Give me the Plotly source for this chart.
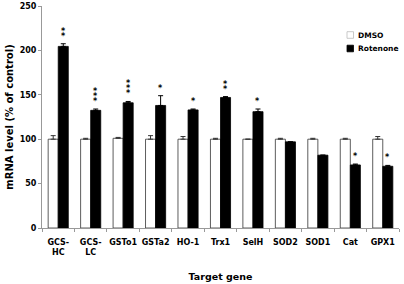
import plotly.graph_objects as go

genes = ["GCS-<br>HC", "GCS-<br>LC", "GSTo1", "GSTa2", "HO-1", "Trx1", "SelH", "SOD2", "SOD1", "Cat", "GPX1"]
dmso = [100, 100, 101, 100, 100, 100, 100, 100, 100, 100, 100]
dmso_err = [4, 1, 1, 4, 3, 1, 0, 1, 1, 1, 3]
rotenone = [204.5, 132.5, 141, 138, 133, 147, 131, 97, 82, 71, 69.5]
rot_err = [3, 1.5, 1.5, 11, 1, 1, 3, 0, 0, 1, 1]
stars = [2, 3, 3, 1, 1, 2, 1, 0, 0, 1, 1]
series_names = ["DMSO", "Rotenone"]
series_colors = ["white", "black"]

FONT = "DejaVu Sans"

fig = go.Figure()
fig.add_trace(go.Bar(
    x=genes, y=dmso, name=series_names[0],
    marker=dict(color=series_colors[0], line=dict(color="#333333", width=0.8)),
    error_y=dict(type="data", array=dmso_err, arrayminus=[0]*len(dmso), symmetric=False,
                 color="#333333", thickness=1, width=2.5),
))
fig.add_trace(go.Bar(
    x=genes, y=rotenone, name=series_names[1],
    marker=dict(color=series_colors[1], line=dict(color="black", width=0.8)),
    error_y=dict(type="data", array=rot_err, arrayminus=[0]*len(rotenone), symmetric=False,
                 color="black", thickness=1, width=2.5),
))

for g, v, e, n in zip(genes, rotenone, rot_err, stars):
    for i in range(n):
        fig.add_annotation(
            x=g, y=v + e, xref="x", yref="y", text="<b>*</b>", showarrow=False,
            xshift=5, yshift=1 + 5 * i, yanchor="bottom",
            font=dict(family=FONT, size=8, color="black"),
        )

# manual legend (paper coords)
px0, px1, py0, py1 = 42, 399, 6, 228
def xp(p):
    return (p - px0) / (px1 - px0)
def yp(p):
    return 1 - (p - py0) / (py1 - py0)

for i, (nm, col) in enumerate(zip(series_names, series_colors)):
    cy = 35 + 13.5 * i
    fig.add_shape(type="rect", xref="paper", yref="paper",
                  x0=xp(347), x1=xp(353.5), y0=yp(cy - 3.3), y1=yp(cy + 3.3),
                  fillcolor=col, line=dict(color="#bbbbbb" if col == "white" else "black", width=0.8))
    fig.add_annotation(xref="paper", yref="paper", x=xp(356), y=yp(cy), text="<b>%s</b>" % nm,
                       showarrow=False, xanchor="left", yanchor="middle",
                       font=dict(family=FONT, size=7.5, color="black"))

fig.update_layout(
    width=404, height=284,
    margin=dict(l=42, r=5, t=6, b=56, autoexpand=False),
    plot_bgcolor="white", paper_bgcolor="white",
    barmode="group", bargap=0.38, bargroupgap=0,
    font=dict(family=FONT, size=8, color="black"),
    showlegend=False,
)
fig.update_xaxes(
    showline=True, linecolor="#999999", linewidth=1,
    ticks="outside", tickson="boundaries", ticklen=3, tickcolor="#999999",
    tickangle=0, ticklabelstandoff=6,
    tickfont=dict(family=FONT, size=8, color="black", weight="bold"),
    title=dict(text="<b>Target gene</b>", font=dict(family=FONT, size=9.5), standoff=17),
    automargin=False,
)
fig.update_yaxes(
    range=[0, 250], tickvals=[0, 50, 100, 150, 200, 250],
    showline=True, linecolor="#999999", linewidth=1,
    ticks="outside", ticklen=3, tickcolor="#999999", showgrid=False, zeroline=False,
    tickfont=dict(family=FONT, size=8, color="black", weight="bold"),
    title=dict(text="<b>mRNA level (% of control)</b>", font=dict(family=FONT, size=10), standoff=4),
    automargin=False,
)

fig.write_html("out.html", config={"displayModeBar": False},
               post_script="document.body.style.margin='0';document.body.style.padding='0';")
